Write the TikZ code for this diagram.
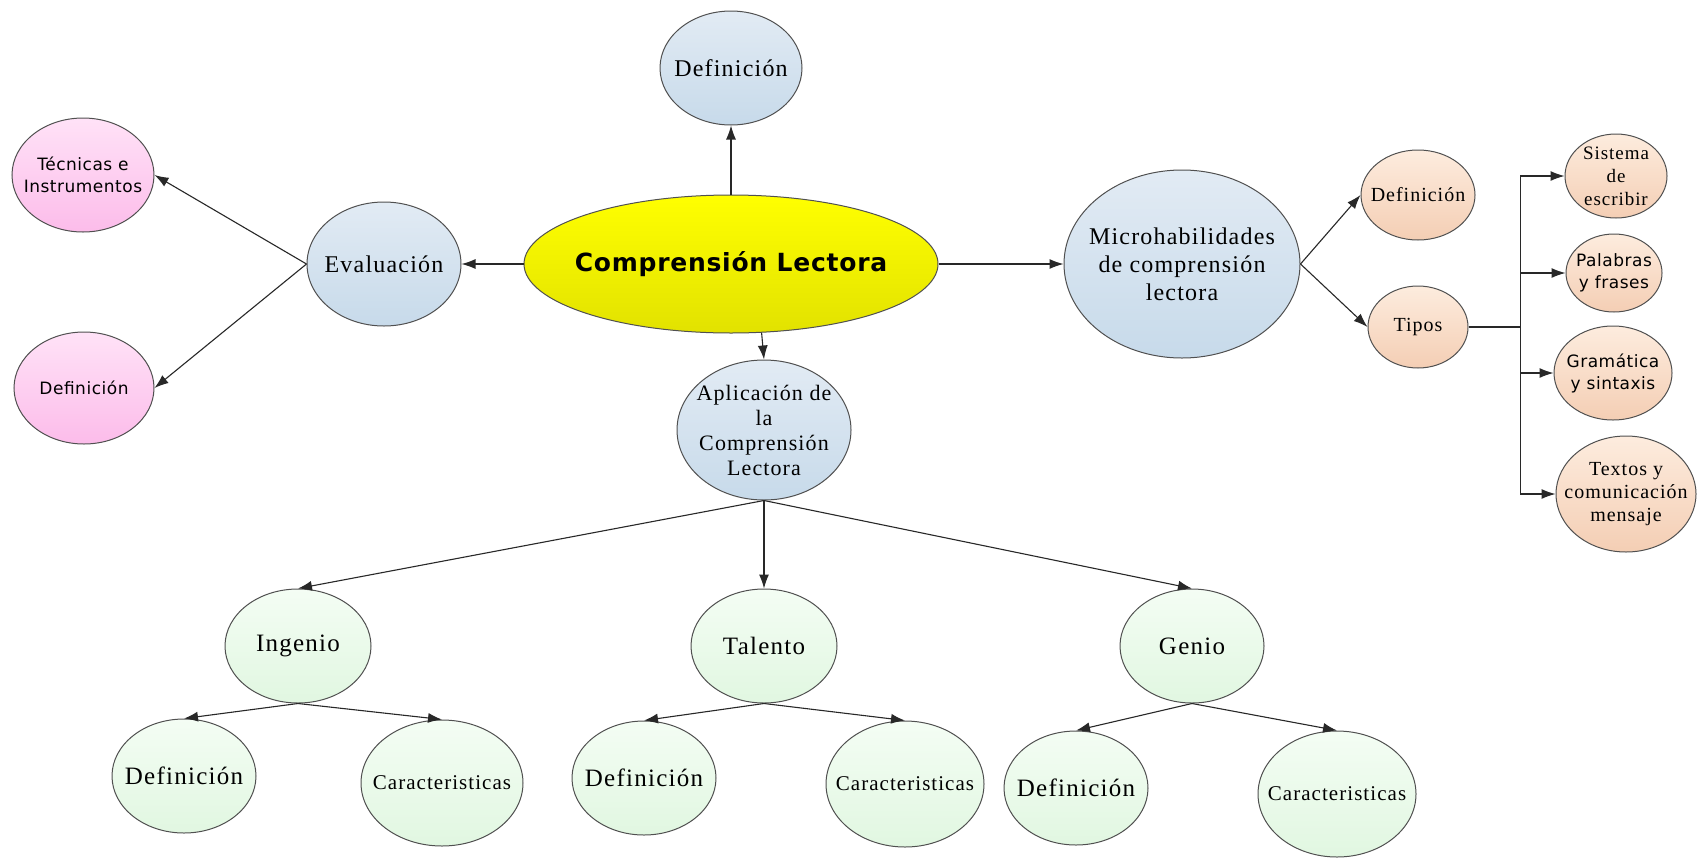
\documentclass[tikz,border=0pt]{standalone}
\usepackage{fontspec}
\usetikzlibrary{shapes.geometric,arrows.meta}
\newfontfamily\serifx[LetterSpace=5]{Liberation Serif}
\newfontfamily\sansx[LetterSpace=3]{DejaVu Sans}
\definecolor{bluT}{RGB}{226,235,244}
\definecolor{bluB}{RGB}{199,218,234}
\definecolor{yelT}{RGB}{255,255,0}
\definecolor{yelB}{RGB}{226,226,0}
\definecolor{pinT}{RGB}{255,226,247}
\definecolor{pinB}{RGB}{252,188,234}
\definecolor{orT}{RGB}{253,236,222}
\definecolor{orB}{RGB}{244,206,180}
\definecolor{grT}{RGB}{244,253,244}
\definecolor{grB}{RGB}{225,247,225}
\definecolor{edgec}{RGB}{80,80,80}
\definecolor{connc}{RGB}{40,40,40}
\tikzset{
  bub/.style={ellipse, draw=edgec, line width=1pt, inner sep=0pt},
  bb/.style={bub, top color=bluT, bottom color=bluB},
  yy/.style={bub, top color=yelT, bottom color=yelB},
  pp/.style={bub, top color=pinT, bottom color=pinB},
  oo/.style={bub, top color=orT, bottom color=orB},
  gg/.style={bub, top color=grT, bottom color=grB},
  st/.style n args={2}{font=\serifx\fontsize{#1}{#2}\selectfont, align=center, inner sep=0pt},
  sa/.style n args={2}{font=\sansx\fontsize{#1}{#2}\selectfont, align=center, inner sep=0pt},
  arr/.style={draw=connc, line width=1.1pt, -{Latex[length=14pt,width=10pt]}},
  lnk/.style={draw=connc, line width=2pt},
}
\begin{document}
\begin{tikzpicture}[x=1pt,y=-1pt]
\fill[white] (0,0) rectangle (1697,857);
\useasboundingbox (0,0) rectangle (1697,857);

% central
\node[yy, minimum width=414pt, minimum height=138pt] (cl) at (731,264) {};
\node[font=\sansx\bfseries\fontsize{25}{30}\selectfont, inner sep=0pt] (cl-t) at (cl) {Comprensión Lectora};

% top definition
\node[bb, minimum width=142pt, minimum height=114pt] (defT) at (731,68) {};
\node[st={24}{28}] (defT-t) at (defT) {Definición};

% evaluation branch
\node[bb, minimum width=154pt, minimum height=124pt] (ev) at (384,264) {};
\node[st={24}{28}] (ev-t) at (ev) {Evaluación};
\node[pp, minimum width=142pt, minimum height=114pt] (tec) at (83,175) {};
\node[sa={17}{22}] (tec-t) at (tec) {Técnicas e\\Instrumentos};
\node[pp, minimum width=140pt, minimum height=112pt] (defP) at (84,388) {};
\node[sa={17}{22}] (defP-t) at (defP) {Definición};

% micro branch
\node[bb, minimum width=236pt, minimum height=188pt] (mic) at (1182,264) {};
\node[st={24}{28}] (mic-t) at (mic) {Microhabilidades\\de comprensión\\lectora};
\node[oo, minimum width=114pt, minimum height=90pt] (defO) at (1418,195) {};
\node[st={20}{24}] (defO-t) at (defO) {Definición};
\node[oo, minimum width=100pt, minimum height=82pt] (tip) at (1418,327) {};
\node[st={20}{24}] (tip-t) at (tip) {Tipos};
\node[oo, minimum width=102pt, minimum height=84pt] (sis) at (1616,176) {};
\node[st={19}{23}] (sis-t) at (sis) {Sistema\\de\\escribir};
\node[oo, minimum width=96pt, minimum height=78pt] (pal) at (1614,273) {};
\node[sa={17}{22}] (pal-t) at (pal) {Palabras\\y frases};
\node[oo, minimum width=118pt, minimum height=94pt] (gra) at (1613,373) {};
\node[sa={17}{22}] (gra-t) at (gra) {Gramática\\y sintaxis};
\node[oo, minimum width=140pt, minimum height=116pt] (tex) at (1626,494) {};
\node[st={20}{23}] (tex-t) at (tex) {Textos y\\comunicación\\mensaje};

% application branch
\node[bb, minimum width=174pt, minimum height=140pt] (apl) at (764,430) {};
\node[st={22}{25}] (apl-t) at (apl) {Aplicación de\\la\\Comprensión\\Lectora};
\node[gg, minimum width=146pt, minimum height=114pt] (ing) at (298,646) {};
\node[st={25}{28}] (ing-t) at (ing) {Ingenio};
\node[gg, minimum width=146pt, minimum height=114pt] (tal) at (764,646) {};
\node[st={25}{28}] (tal-t) at (tal) {Talento};
\node[gg, minimum width=144pt, minimum height=114pt] (gen) at (1192,646) {};
\node[st={25}{28}] (gen-t) at (gen) {Genio};

\node[gg, minimum width=144pt, minimum height=114pt] (id) at (184,776) {};
\node[st={25}{28}] (id-t) at (id) {Definición};
\node[gg, minimum width=162pt, minimum height=126pt] (ic) at (442,783) {};
\node[st={21}{24}] (ic-t) at (ic) {Caracteristicas};
\node[gg, minimum width=144pt, minimum height=114pt] (td) at (644,778) {};
\node[st={25}{28}] (td-t) at (td) {Definición};
\node[gg, minimum width=158pt, minimum height=126pt] (tc) at (905,784) {};
\node[st={21}{24}] (tc-t) at (tc) {Caracteristicas};
\node[gg, minimum width=144pt, minimum height=114pt] (gd) at (1076,788) {};
\node[st={25}{28}] (gd-t) at (gd) {Definición};
\node[gg, minimum width=158pt, minimum height=126pt] (gc) at (1337,794) {};
\node[st={21}{24}] (gc-t) at (gc) {Caracteristicas};

% connectors
\draw[arr] (cl.north) -- (defT.south);
\draw[arr] (cl.west) -- (ev.east);
\draw[arr] (ev.west) -- (tec.east);
\draw[arr] (ev.west) -- (defP.east);
\draw[arr] (cl.east) -- (mic.west);
\draw[arr] (mic.east) -- (defO.west);
\draw[arr] (mic.east) -- (tip.west);
\draw[lnk] (tip.east) -- ++(52,0) coordinate (bus);
\draw[arr] (bus) |- (sis.west);
\draw[arr] (bus) |- (pal.west);
\draw[arr] (bus) |- (gra.west);
\draw[arr] (bus) |- (tex.west);
\draw[arr] (cl.-66) -- (apl.north);
\draw[arr] (apl.south) -- (ing.north);
\draw[arr] (apl.south) -- (tal.north);
\draw[arr] (apl.south) -- (gen.north);
\draw[arr] (ing.south) -- (id.north);
\draw[arr] (ing.south) -- (ic.north);
\draw[arr] (tal.south) -- (td.north);
\draw[arr] (tal.south) -- (tc.north);
\draw[arr] (gen.south) -- (gd.north);
\draw[arr] (gen.south) -- (gc.north);
\end{tikzpicture}
\end{document}
